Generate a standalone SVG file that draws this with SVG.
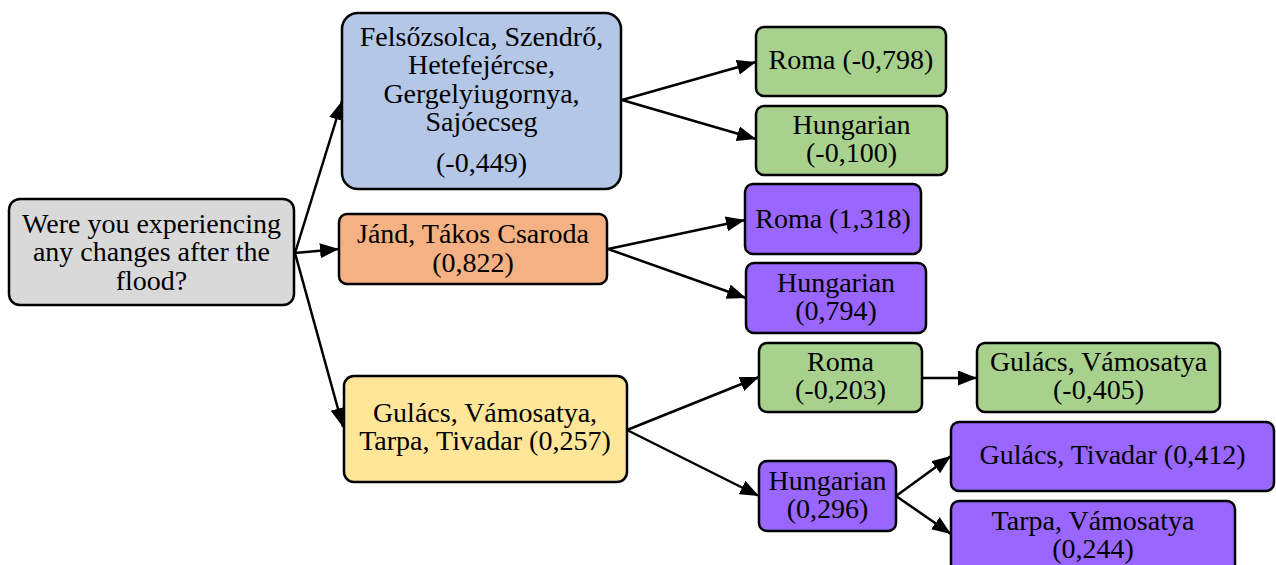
<svg xmlns="http://www.w3.org/2000/svg" width="1276" height="565" viewBox="0 0 1276 565">
<style>
.box{stroke:#000;stroke-width:2.5}
.gray{fill:#d9d9d9}.blue{fill:#b4c7e7}.orange{fill:#f4b183}.green{fill:#a9d18e}.purple{fill:#9966ff}.yellow{fill:#ffe699}
text{font-family:"Liberation Serif","Times New Roman",serif;font-size:28px;fill:#000;text-anchor:middle}
.edge{stroke:#000;stroke-width:2.5;fill:none;marker-end:url(#ah)}
</style>
<defs>
<marker id="ah" markerUnits="userSpaceOnUse" markerWidth="20" markerHeight="16" refX="19" refY="7.5" orient="auto">
<path d="M0,0 L19,7.5 L0,15 Z" fill="#000"/>
</marker>
</defs>
<rect width="1276" height="565" fill="#fff"/>
<g id="connectors">
<line class="edge" x1="295" y1="253" x2="342" y2="101"/>
<line class="edge" x1="295" y1="253" x2="339" y2="249"/>
<line class="edge" x1="295" y1="253" x2="343" y2="427"/>
<line class="edge" x1="622" y1="100" x2="756" y2="62"/>
<line class="edge" x1="622" y1="100" x2="756" y2="139"/>
<line class="edge" x1="608" y1="249" x2="745" y2="220"/>
<line class="edge" x1="608" y1="249" x2="746" y2="298"/>
<line class="edge" x1="627" y1="430" x2="759" y2="377"/>
<line class="edge" x1="627" y1="430" x2="759" y2="496"/>
<line class="edge" x1="922" y1="378" x2="977" y2="378"/>
<line class="edge" x1="896" y1="496" x2="951" y2="456"/>
<line class="edge" x1="896" y1="496" x2="951" y2="534"/>
</g>
<g id="root">
<rect class="box gray" x="9" y="199" width="285" height="106" rx="11"/>
<text x="151.5" y="233">Were you experiencing</text>
<text x="151.5" y="261">any changes after the</text>
<text x="151.5" y="290">flood?</text>
</g>
<g id="blue">
<rect class="box blue" x="342" y="13" width="279" height="176" rx="16"/>
<text x="481.5" y="46">Felsőzsolca, Szendrő,</text>
<text x="481.5" y="74">Hetefejércse,</text>
<text x="481.5" y="103">Gergelyiugornya,</text>
<text x="481.5" y="131">Sajóecseg</text>
<text x="481.5" y="172">(-0,449)</text>
</g>
<g id="orange">
<rect class="box orange" x="339" y="214" width="268" height="70" rx="8"/>
<text x="473" y="243">Jánd, Tákos Csaroda</text>
<text x="473" y="272">(0,822)</text>
</g>
<g id="yellow">
<rect class="box yellow" x="344" y="376" width="283" height="106" rx="10"/>
<text x="485" y="422">Gulács, Vámosatya,</text>
<text x="485" y="450">Tarpa, Tivadar (0,257)</text>
</g>
<g id="roma1">
<rect class="box green" x="756" y="27" width="190" height="69" rx="8"/>
<text x="851" y="69">Roma (-0,798)</text>
</g>
<g id="hun1">
<rect class="box green" x="756" y="106" width="191" height="69" rx="8"/>
<text x="851.5" y="134">Hungarian</text>
<text x="851.5" y="162">(-0,100)</text>
</g>
<g id="roma2">
<rect class="box purple" x="745" y="184" width="176" height="70" rx="8"/>
<text x="833" y="228">Roma (1,318)</text>
</g>
<g id="hun2">
<rect class="box purple" x="746" y="263" width="180" height="70" rx="8"/>
<text x="836" y="292">Hungarian</text>
<text x="836" y="320">(0,794)</text>
</g>
<g id="roma3">
<rect class="box green" x="759" y="343" width="163" height="69" rx="8"/>
<text x="840.5" y="371">Roma</text>
<text x="840.5" y="399">(-0,203)</text>
</g>
<g id="gulacs1">
<rect class="box green" x="977" y="343" width="243" height="69" rx="8"/>
<text x="1098.5" y="371">Gulács, Vámosatya</text>
<text x="1098.5" y="399">(-0,405)</text>
</g>
<g id="hun3">
<rect class="box purple" x="759" y="461" width="137" height="70" rx="8"/>
<text x="827.5" y="490">Hungarian</text>
<text x="827.5" y="518">(0,296)</text>
</g>
<g id="gulacs2">
<rect class="box purple" x="951" y="422" width="323" height="69" rx="8"/>
<text x="1112.5" y="464">Gulács, Tivadar (0,412)</text>
</g>
<g id="tarpa">
<rect class="box purple" x="951" y="501" width="284" height="80" rx="8"/>
<text x="1093" y="530">Tarpa, Vámosatya</text>
<text x="1093" y="558">(0,244)</text>
</g>
</svg>
